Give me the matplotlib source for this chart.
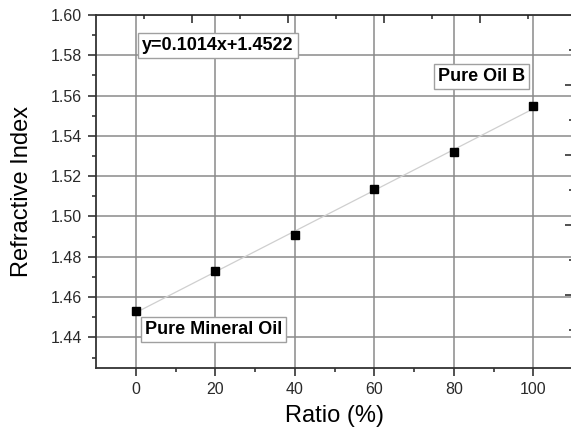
#!/usr/bin/env python3
# Refractive index vs. mixing ratio

import numpy as np
import matplotlib
matplotlib.use('Agg')
from matplotlib import pyplot as plt

plt.rcParams['font.family'] = ['Liberation Sans', 'DejaVu Sans']

# data
ratio = [0, 20, 40, 60, 80, 100]
refractive_index = [1.4531, 1.4728, 1.4910, 1.5135, 1.5319, 1.5548]
fit_label = 'y=0.1014x+1.4522'
end_labels = ['Pure Mineral Oil', 'Pure Oil B']

x_ticks = [0, 20, 40, 60, 80, 100]
y_ticks = [1.44, 1.46, 1.48, 1.50, 1.52, 1.54, 1.56, 1.58, 1.60]

# the stray ticks of the extra top / right axes
top_major = [0, 1, 2, 3]
top_minor = [-0.5, 0.5, 1.5, 2.5, 3.5]
right_major = [0, 1, 2, 3]
right_minor = [-0.5, 0.5, 1.5, 2.5, 3.5]

fig = plt.figure(figsize=(5.71, 4.30), dpi=100)
ax = fig.add_axes([96 / 571, 1 - 368 / 430, 477 / 571, 353 / 430])

# linear fit through the points
k, b = np.polyfit(ratio, refractive_index, 1)
xs = np.array([ratio[0], ratio[-1]])
ax.plot(xs, k * xs + b, color='#cfcfcf', lw=0.9, zorder=2)
ax.plot(ratio, refractive_index, 's', color='black', ms=6, zorder=3)

ax.set_xlim(-10, 110)
ax.set_ylim(1.4248, 1.60)
ax.set_xticks(x_ticks)
ax.set_xticks([t + 10 for t in x_ticks[:-1]], minor=True)
ax.set_yticks(y_ticks)
ax.set_yticks([t + 0.01 for t in y_ticks[:-1]] + [1.43], minor=True)
ax.set_yticklabels(['%.2f' % t for t in y_ticks])
ax.grid(True, which='major', color='#8a8a8a', lw=1.1, zorder=1)
ax.set_axisbelow(True)

ax.tick_params(which='both', direction='out', top=False, right=False,
               color='#222222', width=1.1, labelsize=11.5, labelcolor='#2a2a2a')
ax.tick_params(which='major', length=6, pad=4)
ax.tick_params(which='minor', length=3)
for s in ax.spines.values():
    s.set_color('#333333')
    s.set_linewidth(1.3)

ax.set_xlabel('Ratio (%)', fontsize=17, labelpad=6)
ax.set_ylabel('Refractive Index', fontsize=17, labelpad=13)

box = dict(boxstyle='square,pad=0.22', fc='white', ec='#a0a0a0', lw=1.0)
ax.text(20.7, 1.5849, fit_label, fontsize=13, fontweight='bold',
        ha='center', va='center', bbox=box, zorder=4)
ax.text(86.9, 1.5697, end_labels[1], fontsize=13, fontweight='bold',
        ha='center', va='center', bbox=box, zorder=4)
ax.text(19.6, 1.4437, end_labels[0], fontsize=13, fontweight='bold',
        ha='center', va='center', bbox=box, zorder=4)

# extra top axis (inward ticks, no labels)
axt = ax.twiny()
axt.set_xlim(-1, 381 / 96)
axt.set_xticks(top_major)
axt.set_xticks(top_minor, minor=True)
axt.tick_params(which='both', direction='in', top=True, bottom=False,
                labeltop=False, color='#222222', width=1.1)
axt.tick_params(which='major', length=6)
axt.tick_params(which='minor', length=3)
for s in axt.spines.values():
    s.set_visible(False)

# extra right axis
axr = ax.twinx()
axr.set_ylim(-73 / 70, 280 / 70)
axr.set_yticks(right_major)
axr.set_yticks(right_minor, minor=True)
axr.tick_params(which='both', direction='in', right=True, left=False,
                labelright=False, color='#222222', width=1.1)
axr.tick_params(which='major', length=6)
axr.tick_params(which='minor', length=3)
for s in axr.spines.values():
    s.set_visible(False)

fig.savefig('out.png', dpi=100)
